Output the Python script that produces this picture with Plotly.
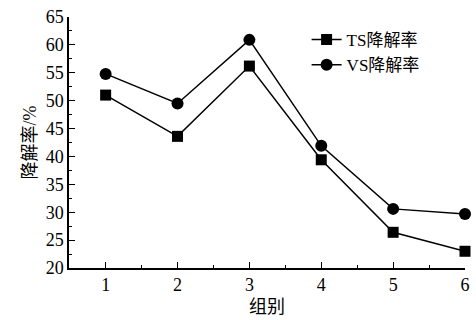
import plotly.graph_objects as go

groups = [1, 2, 3, 4, 5, 6]
ts_rate = [51.0, 43.6, 56.2, 39.4, 26.4, 23.0]
vs_rate = [54.8, 49.5, 60.9, 41.9, 30.6, 29.7]

font_family = "Liberation Serif, Times New Roman, Noto Sans CJK SC, serif"

fig = go.Figure()
fig.add_trace(go.Scatter(x=groups, y=ts_rate, mode="lines+markers", name="TS降解率",
                         line=dict(color="black", width=1.5),
                         marker=dict(symbol="square", size=11, color="black"),
                         cliponaxis=False))
fig.add_trace(go.Scatter(x=groups, y=vs_rate, mode="lines+markers", name="VS降解率",
                         line=dict(color="black", width=1.5),
                         marker=dict(symbol="circle", size=12, color="black"),
                         cliponaxis=False))

fig.update_layout(
    width=476, height=320,
    margin=dict(l=69, r=6, t=17, b=48),
    paper_bgcolor="white", plot_bgcolor="white",
    font=dict(family=font_family, size=18, color="black"),
    showlegend=True,
    legend=dict(x=0.6, y=0.98, xanchor="left", yanchor="top",
                bgcolor="rgba(0,0,0,0)", font=dict(size=17),
                tracegroupgap=0, itemwidth=30),
)
fig.update_xaxes(
    range=[0.49, 6.0], tickmode="array", tickvals=groups,
    ticks="inside", ticklen=6, tickwidth=1, tickcolor="black",
    showline=True, linecolor="black", linewidth=1.5,
    showgrid=False, zeroline=False,
    minor=dict(tickvals=[1.5, 2.5, 3.5, 4.5, 5.5], ticks="inside", ticklen=3, tickcolor="black", showgrid=False),
    title=dict(text="组别", standoff=6, font=dict(size=18)),
)
fig.update_yaxes(
    range=[20, 65], dtick=5, tick0=20,
    ticks="inside", ticklen=6, tickwidth=1, tickcolor="black",
    showline=True, linecolor="black", linewidth=1.5,
    showgrid=False, zeroline=False,
    minor=dict(dtick=2.5, ticks="inside", ticklen=3, tickcolor="black", showgrid=False),
    title=dict(text="降解率/%", standoff=4, font=dict(size=18)),
)

fig.write_html("out.html")
